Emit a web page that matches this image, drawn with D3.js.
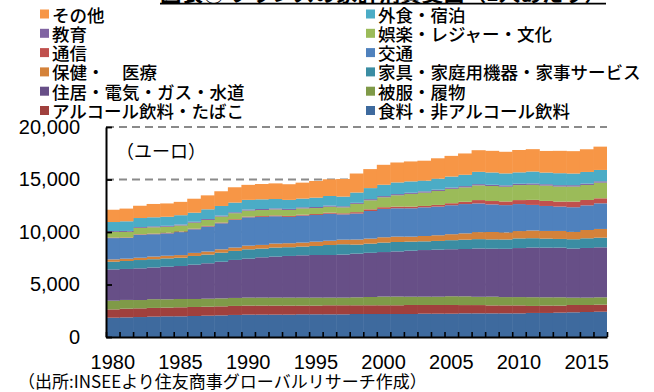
<!DOCTYPE html>
<html>
<head>
<meta charset="utf-8">
<script src="https://cdn.jsdelivr.net/npm/d3@7"></script>
<style>
  html, body { margin: 0; padding: 0; background: #fff; }
  svg { display: block; }
</style>
</head>
<body>
<svg id="chart" width="654" height="392"></svg>
<script>
// Household consumption per capita in France, euros, by spending category
const years = ["1980","1981","1982","1983","1984","1985","1986","1987","1988","1989",
               "1990","1991","1992","1993","1994","1995","1996","1997","1998","1999",
               "2000","2001","2002","2003","2004","2005","2006","2007","2008","2009",
               "2010","2011","2012","2013","2014","2015","2016"];
const yearLabels = ["1980","1985","1990","1995","2000","2005","2010","2015"];
const yTicks = [0, 5000, 10000, 15000, 20000];

// Category names, bottom of the stack first
const seriesNames = ["食料・非アルコール飲料", "アルコール飲料・たばこ", "被服・履物",
  "住居・電気・ガス・水道", "家具・家庭用機器・家事サービス", "保健・　医療", "交通", "通信",
  "娯楽・レジャー・文化", "教育", "外食・宿泊", "その他"];

const food      = [1840,1870,1900,1940,1970,1970,2000,2030,2060,2100,2130,2130,2130,2130,2160,2160,2160,2160,2190,2190,2190,2190,2190,2220,2220,2220,2250,2250,2250,2250,2250,2290,2290,2320,2350,2380,2410];
const alcohol   = [790,830,830,830,830,860,860,860,860,860,860,860,860,860,830,830,860,860,830,830,830,830,860,830,830,830,790,790,760,760,760,670,700,670,700,670,670];
const clothing  = [830,830,790,830,790,790,760,760,760,760,760,760,760,760,760,760,730,730,760,790,830,830,790,790,790,830,830,790,830,790,790,830,790,790,700,700,700];
const housing   = [2980,2950,3020,3020,3110,3140,3270,3370,3490,3620,3710,3840,3910,3970,4030,4060,4060,4100,4160,4210,4240,4300,4380,4440,4480,4480,4510,4600,4570,4600,4670,4730,4730,4730,4670,4730,4760];
const furnish   = [730,760,790,790,790,790,830,830,860,860,890,830,860,830,830,860,950,980,860,870,900,900,860,830,830,860,890,890,890,890,920,890,860,830,890,920,920];
const health    = [220,220,220,250,250,250,290,290,320,320,350,350,380,380,380,410,410,440,480,480,510,510,480,510,540,570,600,670,700,670,700,730,730,760,700,790,830];
const transport = [2030,1970,2190,2130,2130,2190,2250,2380,2480,2630,2700,2670,2600,2510,2570,2540,2570,2410,2480,2630,2700,2700,2700,2730,2730,2760,2790,2730,2630,2600,2570,2440,2380,2320,2350,2350,2440];
const comm      = [50,50,50,60,60,60,60,60,70,70,70,80,80,90,90,90,100,100,130,160,160,160,160,130,160,190,220,320,320,350,380,480,480,480,540,510,480];
const leisure   = [540,540,600,600,570,570,570,570,570,570,570,570,570,570,600,570,570,570,790,860,950,1080,1210,1270,1330,1370,1370,1400,1430,1400,1430,1430,1460,1430,1430,1430,1490];
const education = [80,80,80,90,90,90,90,90,90,90,100,100,100,100,100,100,100,100,100,110,110,110,110,120,120,120,120,120,120,130,130,130,130,130,130,130,130];
const catering  = [860,920,860,860,860,890,860,920,920,920,920,920,890,860,830,890,920,920,980,1050,1080,1110,1080,1020,1050,1050,1080,1170,1170,1140,1080,1140,1110,1140,1110,1110,1080];
const other     = [1170,1210,1170,1270,1270,1270,1330,1330,1400,1460,1430,1460,1490,1490,1520,1590,1590,1680,1810,1810,1900,1900,1900,1900,1940,1970,2030,2060,2060,2060,2130,2130,2060,2130,2130,2160,2220];

const seriesValues = [food, alcohol, clothing, housing, furnish, health, transport, comm, leisure, education, catering, other];
const colors = ["#3e6a9e", "#a0403d", "#7f9a48", "#674f87", "#3b8da3", "#d4823a",
                "#4f81bd", "#c0504d", "#9bbb59", "#8064a2", "#4bacc6", "#f79646"];

const numFont = "'Liberation Sans', Arial, sans-serif";
const jpFont = "'Noto Sans CJK JP', 'Noto Sans', sans-serif";

const svg = d3.select("#chart");
const plotLeft = 106, plotRight = 607, plotTop = 127, plotBottom = 337;

const rows = years.map((yr, i) => {
  const r = { year: yr };
  seriesNames.forEach((n, k) => { r[n] = seriesValues[k][i]; });
  return r;
});
const stacked = d3.stack().keys(seriesNames)(rows);

const x = d3.scaleBand().domain(years).range([plotLeft, plotRight]).padding(0);
const y = d3.scaleLinear().domain([0, 20000]).range([plotBottom, plotTop]);
const color = d3.scaleOrdinal().domain(seriesNames).range(colors);

// dashed horizontal gridlines
svg.append("g").selectAll("line")
  .data(yTicks.filter(v => v > 0))
  .join("line")
  .attr("x1", plotLeft).attr("x2", plotRight)
  .attr("y1", d => y(d)).attr("y2", d => y(d))
  .attr("stroke", "#8a8a8a").attr("stroke-width", 2)
  .attr("stroke-dasharray", "8,5");

// stacked columns with no gap between years
svg.append("g").selectAll("g")
  .data(stacked)
  .join("g")
  .attr("fill", d => color(d.key))
  .selectAll("rect")
  .data(d => d)
  .join("rect")
  .attr("x", d => x(d.data.year))
  .attr("width", (d, i) => x.bandwidth() + (i < years.length - 1 ? 0.5 : 0))
  .attr("y", d => y(d[1]))
  .attr("height", d => y(d[0]) - y(d[1]));

// y axis: inward ticks, labels on the left
const yAxis = svg.append("g")
  .attr("transform", `translate(${plotLeft},0)`)
  .call(d3.axisLeft(y).tickValues(yTicks).tickFormat(d3.format(","))
        .tickSizeInner(-6).tickSizeOuter(0).tickPadding(26));
yAxis.select(".domain").attr("stroke", "#000").attr("stroke-width", 2);
yAxis.selectAll(".tick line").attr("stroke", "#000").attr("stroke-width", 1.8);
yAxis.selectAll("text").attr("font-family", numFont).attr("font-size", 20).attr("fill", "#000");

// x axis: tick marks on year boundaries
const xEdges = d3.scaleLinear().domain([0, years.length]).range([plotLeft, plotRight]);
const xTickAxis = svg.append("g")
  .attr("transform", `translate(0,${plotBottom})`)
  .call(d3.axisBottom(xEdges).ticks(years.length).tickFormat("")
        .tickSizeInner(-5).tickSizeOuter(0));
xTickAxis.select(".domain").attr("stroke", "#000").attr("stroke-width", 2);
xTickAxis.selectAll(".tick line").attr("stroke", "#000").attr("stroke-width", 1.6);

// year labels under the centre of each fifth column
const xLabelAxis = svg.append("g")
  .attr("transform", `translate(0,${plotBottom})`)
  .call(d3.axisBottom(x).tickValues(yearLabels).tickSize(0).tickPadding(18));
xLabelAxis.select(".domain").remove();
xLabelAxis.selectAll("text").attr("font-family", numFont).attr("font-size", 20).attr("fill", "#000");

// unit note
svg.append("text")
  .attr("x", 116).attr("y", 150)
  .attr("dominant-baseline", "central")
  .attr("font-family", jpFont).attr("font-size", 18).attr("fill", "#000")
  .text("（ユーロ）");

// legend: two columns, top of the stack first
const legendOrder = seriesNames.slice().reverse();
const legend = svg.append("g").selectAll("g")
  .data(legendOrder)
  .join("g")
  .attr("transform", (d, i) => {
    const col = i % 2, row = Math.floor(i / 2);
    return `translate(${col === 0 ? 40 : 366},${14 + row * 19.3})`;
  });
legend.append("rect")
  .attr("x", 0).attr("y", -4.5).attr("width", 9).attr("height", 9)
  .attr("fill", d => color(d));
legend.append("text")
  .attr("x", 12).attr("y", 0)
  .attr("dominant-baseline", "central")
  .attr("font-family", jpFont).attr("font-size", 17.5).attr("font-weight", 500)
  .attr("fill", "#000")
  .text(d => d);

// title line at the top edge
svg.append("text")
  .attr("x", 160).attr("y", 0.5)
  .attr("font-family", jpFont).attr("font-size", 21).attr("font-weight", "bold")
  .attr("textLength", 446).attr("lengthAdjust", "spacingAndGlyphs")
  .attr("fill", "#000")
  .text("図表③ フランスの家計消費支出（1人あたり）");
svg.append("line")
  .attr("x1", 160).attr("x2", 606).attr("y1", 3.6).attr("y2", 3.6)
  .attr("stroke", "#000").attr("stroke-width", 1.8);

// source note
svg.append("text")
  .attr("x", 18).attr("y", 380)
  .attr("dominant-baseline", "central")
  .attr("font-family", jpFont).attr("font-size", 17).attr("fill", "#000")
  .text("（出所:INSEEより住友商事グローバルリサーチ作成）");
</script>
</body>
</html>
